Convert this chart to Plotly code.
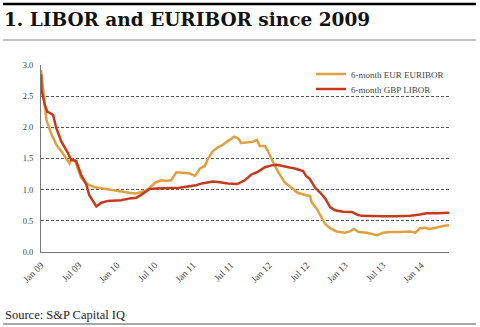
import plotly.graph_objects as go

# ---------------- data ----------------
eur_dates = ["2009-01-01","2009-01-13","2009-01-27","2009-02-21","2009-03-16","2009-04-10","2009-05-10",
             "2009-05-18","2009-05-27","2009-06-13","2009-07-01","2009-07-13","2009-08-01","2009-08-16",
             "2009-09-16","2009-10-04","2009-11-01","2009-12-01","2010-01-01","2010-02-01","2010-03-01",
             "2010-04-01","2010-05-01","2010-05-16","2010-06-07","2010-07-07","2010-08-04","2010-08-27",
             "2010-09-18","2010-10-13","2010-11-13","2010-12-16","2011-01-10","2011-02-04","2011-02-27",
             "2011-03-13","2011-04-07","2011-05-01","2011-05-24","2011-06-18","2011-07-18","2011-08-07",
             "2011-08-21","2011-09-24","2011-10-16","2011-11-04","2011-11-18","2011-12-13","2011-12-27",
             "2012-01-21","2012-02-15","2012-03-16","2012-04-18","2012-05-18","2012-06-27","2012-07-16",
             "2012-07-24","2012-08-18","2012-09-10","2012-09-27","2012-10-21","2012-11-21","2013-01-01",
             "2013-01-24","2013-02-13","2013-03-07","2013-04-16","2013-06-04","2013-07-04","2013-08-04",
             "2013-09-21","2013-11-10","2013-12-04","2013-12-27","2014-01-21","2014-02-07","2014-03-01",
             "2014-03-24","2014-04-24","2014-05-15"]
eur_values = [2.92,2.55,2.12,1.88,1.72,1.61,1.45,
              1.42,1.48,1.47,1.30,1.19,1.12,1.08,
              1.04,1.03,1.01,0.99,0.98,0.96,0.95,
              0.94,0.96,0.98,1.03,1.12,1.15,1.14,
              1.15,1.28,1.27,1.26,1.22,1.34,1.38,
              1.49,1.62,1.68,1.72,1.78,1.85,1.82,
              1.75,1.76,1.77,1.80,1.70,1.70,1.62,
              1.44,1.28,1.12,1.03,0.95,0.91,0.90,
              0.80,0.69,0.55,0.45,0.38,0.33,0.31,
              0.33,0.37,0.32,0.31,0.27,0.31,0.32,
              0.32,0.33,0.31,0.38,0.39,0.37,0.38,
              0.40,0.42,0.43]

gbp_dates = ["2009-01-01","2009-01-04","2009-01-19","2009-02-01","2009-02-13","2009-02-28","2009-03-15",
             "2009-04-09","2009-05-10","2009-05-25","2009-06-19","2009-07-13","2009-08-07","2009-08-21",
             "2009-09-24","2009-10-18","2009-11-18","2010-01-21","2010-03-03","2010-04-04","2010-05-07",
             "2010-06-07","2010-07-07","2010-09-24","2010-10-27","2010-12-07","2011-01-16","2011-02-13",
             "2011-03-13","2011-04-07","2011-05-10","2011-06-18","2011-08-01","2011-09-07","2011-10-07",
             "2011-11-10","2011-12-13","2012-01-13","2012-02-07","2012-03-01","2012-04-04","2012-05-04",
             "2012-06-13","2012-06-27","2012-07-16","2012-08-10","2012-09-04","2012-09-27","2012-10-21",
             "2012-11-13","2012-12-24","2013-02-04","2013-02-27","2013-03-21","2013-05-01","2013-07-01",
             "2013-09-01","2013-11-10","2013-12-27","2014-01-27","2014-03-16","2014-05-15"]
gbp_values = [2.85,2.60,2.36,2.25,2.23,2.20,1.99,
              1.77,1.59,1.48,1.46,1.24,1.08,0.91,
              0.73,0.79,0.82,0.83,0.86,0.87,0.94,
              1.01,1.02,1.02,1.03,1.05,1.07,1.10,
              1.11,1.13,1.12,1.10,1.09,1.15,1.24,
              1.29,1.36,1.39,1.40,1.38,1.36,1.34,
              1.30,1.22,1.17,1.03,0.95,0.86,0.72,
              0.67,0.645,0.64,0.60,0.58,0.575,0.575,
              0.575,0.58,0.60,0.62,0.62,0.63]

tick_dates = ["2009-01-01","2009-07-01","2010-01-01","2010-07-01","2011-01-01","2011-07-01",
              "2012-01-01","2012-07-01","2013-01-01","2013-07-01","2014-01-01"]
tick_labels = ["Jan 09","Jul 09","Jan 10","Jul 10","Jan 11","Jul 11",
               "Jan 12","Jul 12","Jan 13","Jul 13","Jan 14"]
y_ticks = [0.0, 0.5, 1.0, 1.5, 2.0, 2.5, 3.0]

# ---------------- figure ----------------
W, H = 480, 327
L, R, T, B = 41, 31, 65, 75
pw, ph = W - L - R, H - T - B

def px(x):
    return (x - L) / pw

def py(y):
    return (H - B - y) / ph

SERIF = "Liberation Serif"
ORANGE = "#DFA040"
RED = "#C53A1C"

fig = go.Figure()
fig.add_trace(go.Scatter(x=eur_dates, y=eur_values, mode="lines", name="6-month EUR EURIBOR",
                         line=dict(color=ORANGE, width=2.5), legend="legend"))
fig.add_trace(go.Scatter(x=gbp_dates, y=gbp_values, mode="lines", name="6-month GBP LIBOR",
                         line=dict(color=RED, width=2.5), legend="legend2"))

leg_common = dict(xanchor="left", yanchor="middle", bgcolor="rgba(255,255,255,0)",
                  font=dict(family=SERIF, size=9, color="#444"), itemwidth=30,
                  borderwidth=0)

fig.update_layout(
    width=W, height=H,
    margin=dict(l=L, r=R, t=T, b=B, pad=0),
    paper_bgcolor="white", plot_bgcolor="white",
    font=dict(family=SERIF, size=8, color="#444"),
    showlegend=True,
    legend=dict(x=px(311), y=py(74), **leg_common),
    legend2=dict(x=px(311), y=py(89), **leg_common),
    xaxis=dict(type="date", range=["2009-01-01", "2014-05-15"],
               tickvals=tick_dates, ticktext=tick_labels, tickangle=-45,
               showgrid=False, zeroline=False, showline=True, linecolor="#777", linewidth=1,
               ticks="outside", ticklen=3, tickcolor="rgba(0,0,0,0)",
               tickfont=dict(family=SERIF, size=9.5, color="#444")),
    yaxis=dict(range=[0, 3.0], tickvals=y_ticks, tickformat=".1f",
               showgrid=True, gridcolor="#555", gridwidth=1, griddash="3px,2px",
               zeroline=False, showline=True, linecolor="#777", linewidth=1,
               ticks="outside", ticklen=5, tickcolor="rgba(0,0,0,0)",
               tickfont=dict(family=SERIF, size=8.5, color="#444")),
)

shapes = [
    dict(type="line", xref="paper", yref="paper", x0=px(3), x1=px(476), y0=py(4), y1=py(4),
         line=dict(color="black", width=2.5)),
    dict(type="line", xref="paper", yref="paper", x0=px(3), x1=px(476), y0=py(40), y1=py(40),
         line=dict(color="#888", width=1)),
    dict(type="line", xref="paper", yref="paper", x0=px(3), x1=px(476), y0=py(324), y1=py(324),
         line=dict(color="#888", width=1.5)),
]
fig.update_layout(shapes=shapes)

fig.add_annotation(text="<b>1. LIBOR and EURIBOR since 2009</b>", xref="paper", yref="paper",
                   x=px(2), y=py(20), xanchor="left", yanchor="middle", showarrow=False,
                   font=dict(family="DejaVu Serif", size=18.5, color="#111"))
fig.add_annotation(text="Source: S&P Capital IQ", xref="paper", yref="paper",
                   x=px(3), y=py(315), xanchor="left", yanchor="middle", showarrow=False,
                   font=dict(family=SERIF, size=12.5, color="#222"))

fig.write_html("out.html")
